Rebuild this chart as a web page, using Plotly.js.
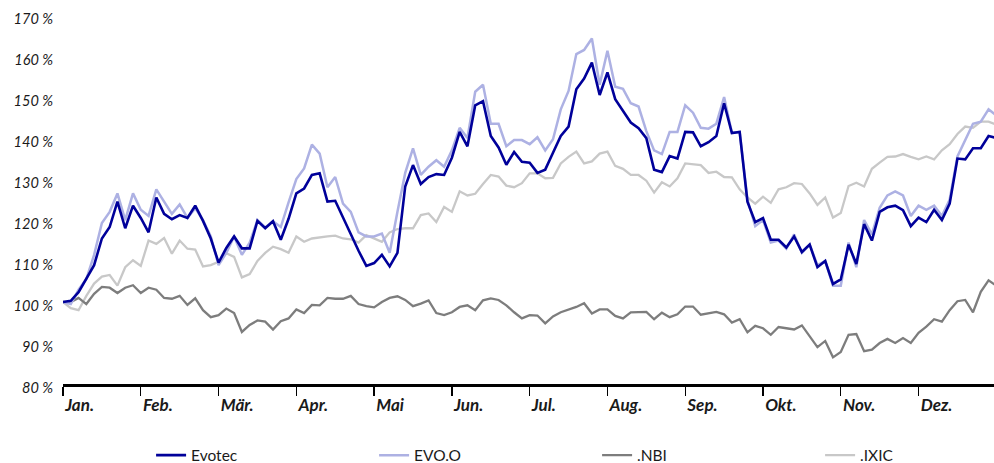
<!DOCTYPE html>
<html>
<head>
<meta charset="utf-8">
<script src="https://cdn.plot.ly/plotly-3.0.1.min.js"></script>
<style>
  html, body { margin: 0; padding: 0; background: #fff; }
  #chart { width: 994px; height: 463px; }
</style>
</head>
<body>
<div id="chart"></div>
<script>
// Month tick labels (German)
const monthLabels = ["Jan.", "Feb.", "Mär.", "Apr.", "Mai", "Jun.", "Jul.", "Aug.", "Sep.", "Okt.", "Nov.", "Dez."];

// Sampling grid: 10 readings per month (values in %, start = 100 %)
const samplesPerMonth = 10;

const evotec = [
  100, 100.3, 102.4, 105.8, 109, 115.5, 118.3, 124.5, 118, 123.5,
  120.5, 117, 125.5, 121.5, 120.2, 121.2, 120.5, 123.5, 119.8, 115.5,
  109.6, 113.2, 116, 113.1, 113.1, 119.8, 118, 119.7, 115.2, 120.3,
  126.5, 127.7, 131, 131.4, 124.5, 124.7, 120.6, 116.5, 112.5, 108.8,
  109.5, 111.5, 108.7, 112, 128.2, 133.4, 128.8, 130.5, 131.2, 131,
  135.2, 141.5, 138, 148, 149, 140.5, 137.7, 133.5, 136.6, 134.2,
  134, 131.5, 132.3, 136.4, 140.5, 142.8, 151.9, 154.5, 158.4, 150.5,
  156, 149.5, 146.5, 143.8, 142.4, 140, 132.3, 131.7, 135.6, 135,
  141.5, 141.4, 138, 139, 140.5, 148.5, 141.2, 141.5, 124.5, 119.5,
  120.5, 115.2, 115.2, 113.3, 116, 112.2, 114, 108.5, 110, 104.4,
  105.5, 114, 109.3, 119, 115, 122, 123.1, 123.5, 122.4, 118.5,
  120.6, 119.5, 122.5, 120, 124, 135, 134.8, 137.5, 137.5, 140.5,
  140
];

const evoO = [
  100, 99.5, 103, 105.6, 111.5, 119.3, 122, 126.5, 120, 126.5,
  122.5, 121, 127.5, 124.5, 121.5, 123.8, 120.5, 122.9, 120, 116,
  109, 112, 116, 111.5, 114.5, 120, 118.2, 119.7, 118.3, 124.3,
  130, 132.6, 138.4, 136.2, 128, 130.5, 124, 122, 117, 116,
  116, 116.7, 112, 122, 131.5, 137.5, 131, 133, 134.6, 133,
  137, 142.5, 140, 151.3, 153, 143.5, 143.5, 138, 139.5, 139.5,
  138.5, 140.2, 137, 139.7, 147, 151.5, 160.5, 161.5, 164.3, 153,
  161.3, 152.5, 152, 148.5, 147.7, 141.7, 137, 136.1, 141.5, 141.5,
  148, 146.2, 142.5, 142.3, 143.5, 150, 141.3, 141.5, 125, 118.5,
  120, 114.5, 115, 113, 116.5, 112, 114, 109, 110, 104,
  104, 114.5, 108.5, 120, 116.5, 123, 126, 127, 126, 121,
  123.5, 122.5, 123.5, 121, 125, 135.5, 139.3, 143.5, 144, 147,
  145.5
];

const nbi = [
  100, 100, 101, 99.5, 102, 103.7, 103.5, 102.2, 103.5, 104.1,
  102.2, 103.5, 103, 101, 100.8, 101.5, 99.3, 100.9, 98, 96.3,
  96.8, 98.4, 97.3, 92.7, 94.4, 95.5, 95.2, 93.3, 95.3, 96,
  98.2, 97.3, 99.3, 99.2, 101, 100.8, 100.8, 101.5, 99.5, 99,
  98.7, 100, 101, 101.4, 100.5, 99, 99.6, 100.4, 97.3, 96.8,
  97.5, 98.8, 99.2, 98, 100.4, 100.9, 100.5, 99.2, 97.5, 96,
  96.8, 96.7, 94.8, 96.5, 97.5, 98.2, 98.8, 99.7, 97.2, 98.2,
  98.2, 96.6, 96, 97.5, 97.6, 97.6, 95.8, 97.4, 96.3, 97,
  98.9, 98.9, 96.9, 97.2, 97.6, 97, 95, 95.8, 92.6, 94.2,
  93.6, 92, 93.9, 93.6, 93.3, 94.3, 91.7, 89, 90.5, 86.5,
  87.8, 92, 92.2, 88, 88.4, 90, 91, 90, 91.2, 90,
  92.5, 94, 95.8, 95.2, 98, 100.2, 100.5, 97.5, 102.5, 105.3,
  104
];

const ixic = [
  100, 98.5, 98, 101.5, 104.5, 106.2, 106.6, 104, 108.5, 110.2,
  108.8, 115, 114.2, 115.6, 111.8, 115, 113, 112.8, 108.7, 109,
  109.8, 111.9, 111, 106, 106.8, 110, 112, 113.5, 112.9, 112,
  116, 114.7, 115.5, 115.8, 116, 116.2, 115.5, 115.3, 114.5, 116.3,
  115.5, 114.7, 117, 117.8, 118, 118, 121.2, 121.6, 119.5, 123.2,
  122, 127, 126, 126.4, 128.8, 131, 130.6, 128.4, 128, 129,
  131.4, 131.4, 130.2, 130.3, 133.8, 135.4, 136.7, 133.8, 134.3, 136.2,
  136.7, 133.2, 132.5, 131, 131, 129.6, 126.7, 129.2, 128.2, 130.2,
  133.8, 133.6, 133.4, 131.5, 131.8, 130.5, 130.4, 127.5, 125.5, 124,
  125.7, 124.2, 127.5, 128, 129, 128.8, 126.5, 123.7, 125.5, 120.6,
  121.7, 128.3, 129.1, 128.2, 132.5, 134, 135.4, 135.5, 136.1, 135.4,
  134.8, 135.5, 134.8, 137, 138.5, 141, 142.8, 142.5, 144, 144,
  143.3
];

const yTicks = [80, 90, 100, 110, 120, 130, 140, 150, 160, 170];

// x positions of the sampling grid, in months from the start of January
const xs = evotec.map((_, i) => i / samplesPerMonth);

const FONT = "Lato, 'Open Sans', sans-serif";

function trace(name, y, color, width, rank) {
  return {
    type: "scatter", mode: "lines", name: name,
    x: xs, y: y,
    line: { color: color, width: width, shape: "linear" },
    legendrank: rank,
    hoverinfo: "skip"
  };
}

const data = [
  trace(".IXIC", ixic, "#c8c8c8", 2.3, 4),
  trace(".NBI", nbi, "#7d7d7d", 2.3, 3),
  trace("EVO.O", evoO, "#adb1e3", 2.5, 2),
  trace("Evotec", evotec, "#00009a", 2.6, 1)
];

const layout = {
  width: 994, height: 463,
  margin: { l: 63, r: 0, t: 11, b: 79, pad: 0 },
  paper_bgcolor: "#fff", plot_bgcolor: "#fff",
  font: { family: FONT, color: "#1a1a1a" },
  showlegend: true,
  legend: {
    orientation: "h",
    xref: "container", yref: "container",
    x: 0.152, xanchor: "left",
    y: 0.016, yanchor: "middle",
    entrywidth: 178, entrywidthmode: "pixels",
    itemwidth: 30,
    font: { family: FONT, size: 15.5, color: "#1a1a1a" },
    traceorder: "normal"
  },
  xaxis: {
    range: [0, 11.97],
    tickmode: "array",
    tickvals: monthLabels.map((_, i) => i),
    ticktext: monthLabels,
    ticks: "outside", ticklen: 9, tickwidth: 1.3, tickcolor: "#000",
    ticklabelposition: "outside right",
    ticklabelstandoff: 4,
    showline: true, linecolor: "#000", linewidth: 3,
    showgrid: false, zeroline: false,
    tickfont: { family: FONT, size: 17, weight: "bold", style: "italic", color: "#1a1a1a" },
    fixedrange: true
  },
  yaxis: {
    range: [80, 171],
    tickmode: "array",
    tickvals: yTicks,
    ticktext: yTicks.map(v => v + " %"),
    ticks: "", showline: false, showgrid: false, zeroline: false,
    ticklabelshift: 4,
    ticklabelstandoff: 9,
    tickfont: { family: FONT, size: 14.5, style: "italic", color: "#1a1a1a" },
    fixedrange: true
  }
};

Plotly.newPlot("chart", data, layout, { displayModeBar: false, staticPlot: true });
</script>
</body>
</html>
